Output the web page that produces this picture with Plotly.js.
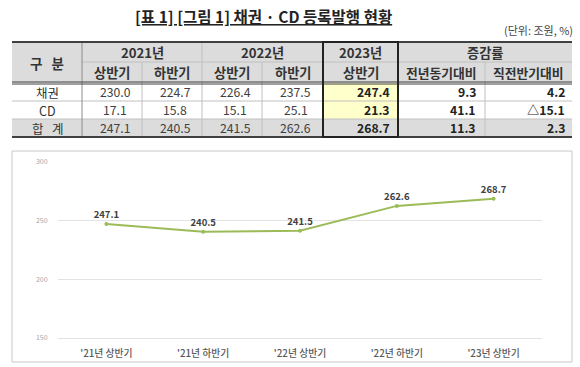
<!DOCTYPE html>
<html>
<head>
<meta charset="utf-8">
<script src="https://cdn.plot.ly/plotly-3.0.1.min.js"></script>
<style>html,body{margin:0;padding:0;background:#fff;}#chart{width:580px;height:367px;}</style>
</head>
<body>
<div id="chart"></div>
<script>
// ---- data ----
var periods = ["'21년 상반기", "'21년 하반기", "'22년 상반기", "'22년 하반기", "'23년 상반기"];
var bonds = [230.0, 224.7, 226.4, 237.5, 247.4];
var cdIssued = [17.1, 15.8, 15.1, 25.1, 21.3];
var totals = [247.1, 240.5, 241.5, 262.6, 268.7];
var yoyChange = ["9.3", "41.1", "11.3"];
var hohChange = ["4.2", "△15.1", "2.3"];
var yearHeaders = ["2021년", "2022년", "2023년"];
var halfHeaders = ["상반기", "하반기", "상반기", "하반기", "상반기"];
var changeHeader = "증감률";
var changeSubHeaders = ["전년동기대비", "직전반기대비"];
var rowLabels = ["채권", "CD", "합\u00A0\u00A0\u00A0계"];
var cornerLabel = "구\u00A0\u00A0\u00A0분";
var titleText = "[표 1] [그림 1] 채권 · CD 등록발행 현황";
var unitText = "(단위: 조원, %)";

// ---- table layout (pixel units on a hidden axis pair) ----
var colEdges = [12, 82, 142, 202, 262, 323, 398, 485, 572];
var rowEdges = [42, 62, 83, 101, 119, 137];
var W = 580, H = 367;
var FONT = "'Noto Sans CJK KR', 'Noto Sans', sans-serif";
var grayFill = "#dcdcdc";
var lightLine = "#c0c0c0";
var darkLine = "#404040";

var shapes = [];
var ann = [];
function rect(x0, y0, x1, y1, fill) {
  shapes.push({type: 'rect', xref: 'x2', yref: 'y2', x0: x0, x1: x1, y0: y0, y1: y1,
    fillcolor: fill, line: {width: 0}, layer: 'above'});
}
function line(x0, y0, x1, y1, color, w) {
  shapes.push({type: 'line', xref: 'x2', yref: 'y2', x0: x0, x1: x1, y0: y0, y1: y1,
    line: {color: color, width: w}, layer: 'above'});
}
function text(t, x, y, anchor, size, color) {
  ann.push({xref: 'x2', yref: 'y2', x: x, y: y, text: t, showarrow: false,
    xanchor: anchor || 'center', yanchor: 'middle',
    font: {family: FONT, size: size || 12, color: color || '#333'}});
}
var L = colEdges[0], R = colEdges[colEdges.length - 1];
// fills
rect(L, rowEdges[0], R, rowEdges[2], grayFill);
rect(L, rowEdges[4], R, rowEdges[5], grayFill);
rect(colEdges[5], rowEdges[2], colEdges[6], rowEdges[4], "#ffffcc");
// horizontal lines
line(colEdges[1], rowEdges[1], R, rowEdges[1], lightLine, 1);
line(L, rowEdges[3], R, rowEdges[3], lightLine, 1);
line(L, rowEdges[4], R, rowEdges[4], lightLine, 1);
// vertical lines
line(colEdges[1], rowEdges[0], colEdges[1], rowEdges[5], "#8c8c8c", 1);
[2, 4, 7].forEach(function (i) { line(colEdges[i], rowEdges[1], colEdges[i], rowEdges[5], lightLine, 1); });
[3, 5, 6].forEach(function (i) { line(colEdges[i], rowEdges[0], colEdges[i], rowEdges[5], lightLine, 1); });
// heavy lines
line(L, rowEdges[0], R, rowEdges[0], darkLine, 2);
line(L, rowEdges[2] - 1, R, rowEdges[2] - 1, darkLine, 1);
line(L, rowEdges[2] + 1, R, rowEdges[2] + 1, darkLine, 1);
line(L, rowEdges[5], R, rowEdges[5], darkLine, 2);
// 2023 column box
shapes.push({type: 'rect', xref: 'x2', yref: 'y2', x0: colEdges[5], x1: colEdges[6],
  y0: rowEdges[0], y1: rowEdges[5], line: {color: '#222', width: 2}, layer: 'above'});

function mid(a, b) { return (a + b) / 2; }
// header texts
var HS = 13.2;
text('<b>' + cornerLabel + '</b>', mid(colEdges[0], colEdges[1]), mid(rowEdges[0], rowEdges[2]), 'center', 13.5);
text('<b>' + yearHeaders[0] + '</b>', mid(colEdges[1], colEdges[3]), mid(rowEdges[0], rowEdges[1]), 'center', HS);
text('<b>' + yearHeaders[1] + '</b>', mid(colEdges[3], colEdges[5]), mid(rowEdges[0], rowEdges[1]), 'center', HS);
text('<b>' + yearHeaders[2] + '</b>', mid(colEdges[5], colEdges[6]), mid(rowEdges[0], rowEdges[1]), 'center', HS);
text('<b>' + changeHeader + '</b>', mid(colEdges[6], colEdges[8]), mid(rowEdges[0], rowEdges[1]), 'center', HS);
halfHeaders.forEach(function (h, i) {
  text('<b>' + h + '</b>', mid(colEdges[i + 1], colEdges[i + 2]), mid(rowEdges[1], rowEdges[2]), 'center', HS);
});
changeSubHeaders.forEach(function (h, i) {
  text('<b>' + h + '</b>', mid(colEdges[i + 6], colEdges[i + 7]), mid(rowEdges[1], rowEdges[2]), 'center', 12.8);
});
// body
var rowsData = [bonds, cdIssued, totals];
rowsData.forEach(function (vals, r) {
  var yc = mid(rowEdges[r + 2], rowEdges[r + 3]);
  text(rowLabels[r], mid(colEdges[0], colEdges[1]), yc, 'center', 12.5, '#333');
  for (var c = 0; c < 4; c++) {
    text(vals[c].toFixed(1), mid(colEdges[c + 1], colEdges[c + 2]) + 3, yc, 'center', 12.2, '#404040');
  }
  text('<b>' + vals[4].toFixed(1) + '</b>', colEdges[6] - 6, yc, 'right', 12.2, '#222');
  text('<b>' + yoyChange[r] + '</b>', colEdges[7] - 7, yc, 'right', 12.2, '#222');
  text('<b>' + hohChange[r] + '</b>', colEdges[8] - 5, yc, 'right', 12.2, '#222');
});
// title + unit
text('<b><span style="text-decoration:underline">' + titleText + '</span></b>', 263, 16, 'center', 15.5, '#222');
text(unitText, 575, 30, 'right', 11, '#444');

// chart frame
shapes.push({type: 'rect', xref: 'x2', yref: 'y2', x0: 12, x1: 572, y0: 151, y1: 362,
  line: {color: '#c8c8c8', width: 1}, layer: 'above'});

var plotL = 58, plotR = 542, plotT = 162, plotB = 338;

var traces = [
  {
    type: 'scatter', mode: 'lines+markers+text',
    x: periods, y: totals,
    text: totals.map(function (v) { return '<b>' + v.toFixed(1) + '</b>'; }),
    textposition: 'top center',
    textfont: {family: FONT, size: 9.5, color: '#404040'},
    line: {color: '#9bbb59', width: 2},
    marker: {color: '#9bbb59', size: 4},
    cliponaxis: false, hoverinfo: 'skip', showlegend: false
  },
  {type: 'scatter', x: [], y: [], xaxis: 'x2', yaxis: 'y2', mode: 'markers', showlegend: false, hoverinfo: 'skip'}
];

var layout = {
  width: W, height: H,
  margin: {l: 0, r: 0, t: 0, b: 0, pad: 0},
  paper_bgcolor: '#fff', plot_bgcolor: 'rgba(0,0,0,0)',
  showlegend: false,
  xaxis: {
    domain: [plotL / W, plotR / W], type: 'category', range: [-0.5, 4.5],
    showgrid: false, zeroline: false, showline: true, linecolor: '#e3e3e3', linewidth: 1,
    ticks: 'outside', ticklen: 6, tickcolor: 'rgba(0,0,0,0)',
    tickfont: {family: FONT, size: 9.8, color: '#595959', weight: 500}, fixedrange: true
  },
  yaxis: {
    domain: [(H - plotB) / H, (H - plotT) / H], range: [150, 300], dtick: 50, tick0: 0,
    showgrid: true, gridcolor: '#e3e3e3', gridwidth: 1, zeroline: false, showline: false,
    ticks: 'outside', ticklen: 8, tickcolor: 'rgba(0,0,0,0)',
    tickfont: {family: FONT, size: 7, color: '#a6a6a6'}, fixedrange: true
  },
  xaxis2: {domain: [0, 1], range: [0, W], visible: false, anchor: 'y2', fixedrange: true},
  yaxis2: {domain: [0, 1], range: [H, 0], visible: false, anchor: 'x2', fixedrange: true},
  shapes: shapes,
  annotations: ann
};

Plotly.newPlot('chart', traces, layout, {staticPlot: true, displayModeBar: false});
</script>
</body>
</html>
